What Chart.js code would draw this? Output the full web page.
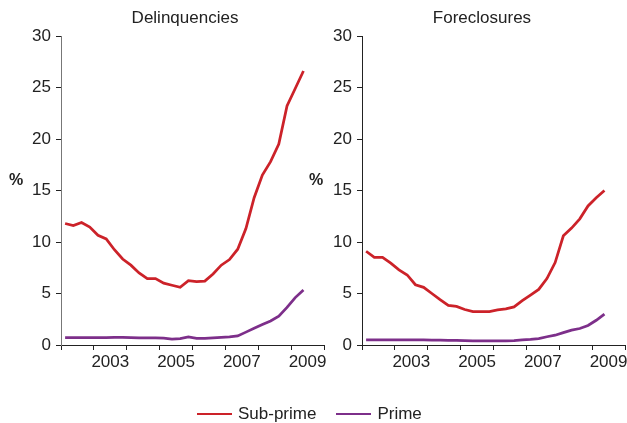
<!DOCTYPE html>
<html>
<head>
<meta charset="utf-8">
<script src="https://cdn.jsdelivr.net/npm/chart.js@4"></script>
<style>
  body { margin: 0; background: #fff; }
  #wrap { position: relative; width: 627px; height: 423px; font-family: 'Liberation Sans', Arial, sans-serif; color: #222; }
  canvas { position: absolute; left: 0; top: 0; }
  .ttl { position: absolute; top: 8px; font-size: 17px; transform: translateX(-50%); white-space: nowrap; }
  .pct { position: absolute; font-size: 16px; font-weight: bold; }
  #legend { position: absolute; left: 197px; top: 404px; font-size: 17px; display: flex; align-items: center; white-space: nowrap; }
  #legend .sw { display: inline-block; width: 35px; height: 2px; margin-right: 6px; }
</style>
</head>
<body>
<div id="wrap">
  <canvas id="left" width="627" height="423"></canvas>
  <canvas id="right" width="627" height="423"></canvas>
  <div class="ttl" style="left:185px">Delinquencies</div>
  <div class="ttl" style="left:482px">Foreclosures</div>
  <div class="pct" style="left:9px;top:171px">%</div>
  <div class="pct" style="left:309px;top:171px">%</div>
  <div id="legend">
    <span class="sw" style="background:#cc2229"></span><span>Sub-prime</span>
    <span class="sw" style="background:#7d2f8a;margin-left:20px"></span><span>Prime</span>
  </div>
</div>
<script>
const quarters = ['2002 Q1','2002 Q2','2002 Q3','2002 Q4','2003 Q1','2003 Q2','2003 Q3','2003 Q4',
  '2004 Q1','2004 Q2','2004 Q3','2004 Q4','2005 Q1','2005 Q2','2005 Q3','2005 Q4',
  '2006 Q1','2006 Q2','2006 Q3','2006 Q4','2007 Q1','2007 Q2','2007 Q3','2007 Q4',
  '2008 Q1','2008 Q2','2008 Q3','2008 Q4','2009 Q1','2009 Q2'];

const delinqSubprime = [11.8,11.6,11.9,11.45,10.65,10.3,9.25,8.35,7.75,7.0,6.45,6.45,6.0,5.8,5.6,6.25,
  6.15,6.2,6.9,7.75,8.3,9.3,11.3,14.3,16.5,17.8,19.5,23.2,24.9,26.6];
const delinqPrime = [0.72,0.72,0.72,0.72,0.72,0.72,0.73,0.73,0.72,0.7,0.68,0.68,0.66,0.58,0.62,0.78,
  0.65,0.65,0.7,0.75,0.8,0.88,1.25,1.62,1.98,2.33,2.8,3.65,4.6,5.35];
const forecSubprime = [9.1,8.5,8.5,7.95,7.3,6.8,5.85,5.6,5.0,4.4,3.85,3.75,3.45,3.25,3.25,3.25,
  3.4,3.5,3.7,4.3,4.85,5.4,6.45,8.0,10.6,11.35,12.25,13.5,14.3,15.0];
const forecPrime = [0.5,0.5,0.5,0.5,0.5,0.5,0.5,0.5,0.48,0.47,0.45,0.45,0.42,0.4,0.4,0.4,
  0.4,0.4,0.42,0.5,0.55,0.62,0.8,0.95,1.2,1.45,1.6,1.9,2.4,3.0];

const yTicks = [0, 5, 10, 15, 20, 25, 30];
const yearLabels = ['2003', '2005', '2007', '2009'];

// quarter label -> decimal year at the middle of the quarter
function qPos(q) {
  const yr = parseInt(q.slice(0, 4));
  const n = parseInt(q.slice(-1));
  return yr + (n - 0.5) / 4;
}
function toPoints(vals) {
  return vals.map((v, i) => ({ x: qPos(quarters[i]), y: v }));
}

Chart.defaults.font.family = "'Liberation Sans', Arial, sans-serif";
Chart.defaults.font.size = 17;
Chart.defaults.color = '#222';

function makeChart(id, sub, prime, pad, yWidth, axisColor) {
  new Chart(document.getElementById(id), {
    type: 'line',
    data: {
      datasets: [
        { label: 'Sub-prime', data: toPoints(sub), borderColor: '#cc2229', borderWidth: 2.75, pointRadius: 0, tension: 0 },
        { label: 'Prime', data: toPoints(prime), borderColor: '#7d2f8a', borderWidth: 2.75, pointRadius: 0, tension: 0 }
      ]
    },
    options: {
      responsive: false,
      animation: false,
      layout: { padding: pad },
      plugins: { legend: { display: false }, tooltip: { enabled: false } },
      scales: {
        x: {
          type: 'linear',
          min: 2002, max: 2010,
          afterBuildTicks: s => {
            const t = [];
            for (let y = 2002; y <= 2010; y += 0.5) t.push({ value: y });
            s.ticks = t;
          },
          afterFit: s => { s.height = 30; },
          border: { display: true, color: '#222', width: 1 },
          grid: {
            drawOnChartArea: false,
            tickLength: 5,
            tickColor: c => (c.tick && c.tick.value % 1 === 0) ? '#222' : 'rgba(0,0,0,0)'
          },
          ticks: {
            autoSkip: false,
            maxRotation: 0,
            padding: 2,
            callback: v => {
              const lbl = String(Math.floor(v));
              return (v % 1 !== 0 && yearLabels.includes(lbl)) ? lbl : '';
            }
          }
        },
        y: {
          min: 0, max: 30,
          afterBuildTicks: s => { s.ticks = yTicks.map(v => ({ value: v })); },
          afterFit: s => { s.width = yWidth; },
          border: { display: true, color: axisColor, width: 1 },
          grid: { drawOnChartArea: false, tickLength: 5, tickColor: '#222' },
          ticks: { padding: 5 }
        }
      }
    }
  });
}

makeChart('left', delinqSubprime, delinqPrime, { left: 0, right: 303, top: 36, bottom: 48 }, 61, '#777');
makeChart('right', forecSubprime, forecPrime, { left: 0, right: 2, top: 36, bottom: 48 }, 362, '#222');
</script>
</body>
</html>
